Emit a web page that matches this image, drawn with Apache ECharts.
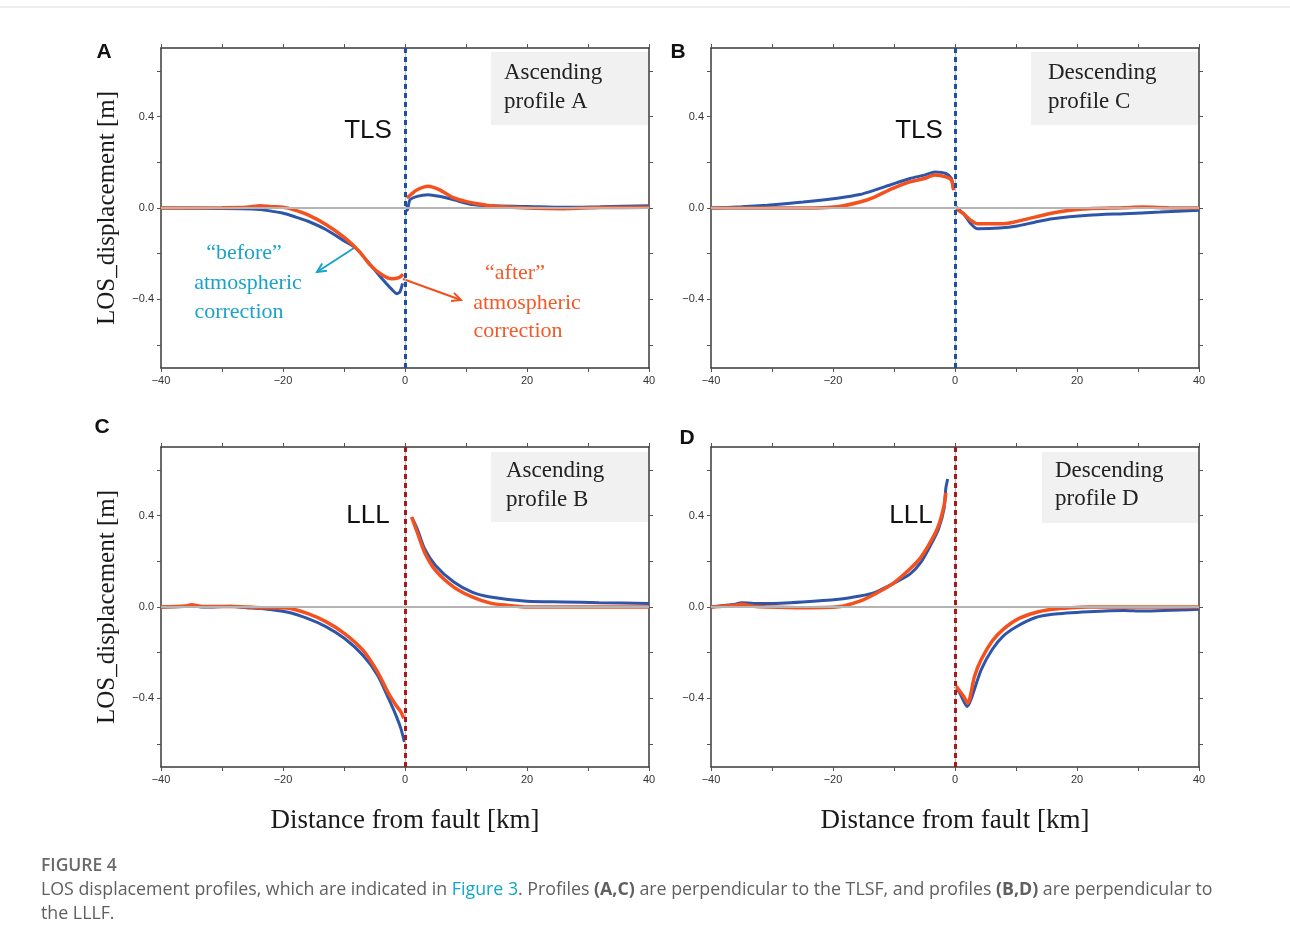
<!DOCTYPE html>
<html>
<head>
<meta charset="utf-8">
<script src="https://cdn.jsdelivr.net/npm/echarts@6/dist/echarts.min.js"></script>
<style>
html, body { margin: 0; background: #fff; }
#chart { width: 1290px; height: 947px; }
</style>
</head>
<body>
<div id="chart"></div>
<script>
// tick positions
var xLabelValues = [-40, -20, 0, 20, 40];
var xTickValues = [-40, -30, -20, -10, 0, 10, 20, 30, 40];
var yLabelValues = [-0.4, 0, 0.4];
var yTickValues = [-0.6, -0.4, -0.2, 0, 0.2, 0.4, 0.6];

// profile A (ascending, TLS)
var aBefore = [[-40,0],[-30,-0.002],[-25,-0.004],[-23.7,-0.007],[-20.1,-0.022],[-17.9,-0.04],[-15.9,-0.058],[-12.9,-0.095],[-9.9,-0.145],[-8.1,-0.175],[-5.7,-0.247],[-3.9,-0.305],[-2.2,-0.355],[-1.3,-0.375],[-0.8,-0.365],[-0.4,-0.33],[0,null],[0.2,0.015],[0.4,-0.01],[0.8,0.035],[2,0.051],[3.8,0.058],[5.6,0.051],[8,0.036],[11,0.015],[14,0.01],[20,0.007],[26,0.003],[32,0.005],[40,0.01]];
var aAfter = [[-40,0],[-30,0.001],[-26,0.003],[-23.7,0.01],[-22,0.006],[-20,0.003],[-18.3,-0.007],[-15.9,-0.03],[-12.9,-0.073],[-9.9,-0.13],[-7.5,-0.19],[-5.7,-0.25],[-3.9,-0.29],[-2.2,-0.31],[-1,-0.305],[-0.3,-0.29],[0,null],[0.3,0.044],[1,0.06],[2,0.08],[3.8,0.095],[5.6,0.08],[8,0.044],[9.8,0.03],[11.6,0.02],[14,0.01],[20,0],[26,-0.003],[32,0.002],[40,0.003]];

// profile C (descending, TLS)
var bBefore = [[-40,0],[-35,0.005],[-30.8,0.012],[-24.9,0.026],[-19,0.044],[-15.6,0.059],[-13.2,0.078],[-10.3,0.104],[-7.4,0.129],[-5,0.144],[-3.3,0.158],[-1.5,0.151],[-0.6,0.129],[-0.3,0.085],[0,null],[0.2,0.004],[1.4,-0.025],[2.6,-0.069],[3.7,-0.091],[7.3,-0.088],[10.2,-0.079],[13.1,-0.062],[16,-0.047],[21.9,-0.032],[27.7,-0.025],[33.6,-0.018],[40,-0.01]];
var bAfter = [[-40,0],[-30.8,0],[-24.9,0],[-19,0.007],[-15.6,0.026],[-13.2,0.048],[-10.3,0.085],[-7.4,0.114],[-5,0.129],[-3.3,0.144],[-1.5,0.136],[-0.6,0.122],[-0.2,0.078],[0,null],[0.2,-0.003],[1.4,-0.025],[2.6,-0.054],[3.7,-0.069],[7.3,-0.069],[9.6,-0.062],[13.1,-0.04],[16,-0.022],[18.9,-0.01],[21.9,-0.003],[27.7,0.001],[30.6,0.004],[35,0.001],[40,0]];

// profile B (ascending, LLL)
var cBefore = [[-40,0],[-36,0.002],[-35,0.005],[-33,0],[-28.5,0.003],[-26,-0.003],[-23.6,-0.007],[-19.4,-0.022],[-15.9,-0.051],[-12.9,-0.087],[-9.9,-0.138],[-6.9,-0.211],[-4.5,-0.298],[-2.7,-0.4],[-1.5,-0.473],[-0.7,-0.53],[-0.1,-0.59],[0,null],[1.1,0.393],[2,0.342],[3.2,0.255],[5,0.182],[8,0.109],[11,0.065],[14,0.044],[20,0.025],[25.9,0.022],[31.8,0.019],[40,0.015]];
var cAfter = [[-40,0],[-36,0.004],[-35,0.01],[-33,0.002],[-28.5,0.002],[-26,0],[-23.6,-0.003],[-19.4,-0.004],[-15.9,-0.029],[-12.9,-0.065],[-9.9,-0.116],[-6.9,-0.189],[-4.5,-0.284],[-2.7,-0.378],[-1.5,-0.429],[-0.7,-0.458],[-0.2,-0.487],[0,null],[1.1,0.393],[2,0.327],[3.2,0.24],[5,0.16],[8,0.087],[11,0.044],[14,0.017],[17,0.007],[20,0],[40,0]];

// profile D (descending, LLL)
var dBefore = [[-40,0],[-36,0.012],[-35,0.019],[-33,0.015],[-30.8,0.015],[-25,0.022],[-19.1,0.034],[-15.6,0.048],[-13.2,0.063],[-10.3,0.1],[-7.4,0.144],[-5.6,0.195],[-3.9,0.275],[-2.7,0.341],[-1.8,0.43],[-1.5,0.52],[-1.2,0.56],[0,null],[0.05,-0.347],[0.8,-0.377],[2,-0.435],[2.6,-0.406],[4.3,-0.274],[6.1,-0.186],[7.9,-0.127],[10.2,-0.084],[13.1,-0.047],[16,-0.032],[21.9,-0.021],[27.7,-0.015],[30.7,-0.018],[40,-0.01]];
var dAfter = [[-40,0],[-36,0.008],[-35,0.012],[-33,0.003],[-30.8,0],[-25,-0.003],[-19.1,0.001],[-15.6,0.026],[-13.2,0.056],[-10.3,0.1],[-7.4,0.166],[-5.6,0.217],[-3.9,0.29],[-2.7,0.356],[-1.8,0.444],[-1.5,0.5],[0,null],[0.2,-0.347],[1.4,-0.391],[2.1,-0.42],[3.2,-0.303],[4.3,-0.23],[6.1,-0.149],[7.9,-0.098],[10.2,-0.054],[13.1,-0.025],[16,-0.01],[19,-0.003],[21.9,0],[40,0]];

var panels = [
  { letter: 'A', fault: 'TLS', profile: ['Ascending', 'profile A'], before: aBefore, after: aAfter, dark: '#1f4fa0', light: '#a9c6ea' },
  { letter: 'B', fault: 'TLS', profile: ['Descending', 'profile C'], before: bBefore, after: bAfter, dark: '#1f4fa0', light: '#a9c6ea' },
  { letter: 'C', fault: 'LLL', profile: ['Ascending', 'profile B'], before: cBefore, after: cAfter, dark: '#a51a1a', light: '#f2a7a7' },
  { letter: 'D', fault: 'LLL', profile: ['Descending', 'profile D'], before: dBefore, after: dAfter, dark: '#a51a1a', light: '#f2a7a7' }
];

// pixel layout of each panel
var layout = [
  { left: 161, top: 48, letterX: 104, letterY: 52, box: [491, 52, 157, 73], textX: 504, textY: [73, 102], faultX: 368, faultY: 131 },
  { left: 711, top: 48, letterX: 678, letterY: 52, box: [1031, 52, 167, 73], textX: 1048, textY: [73, 102], faultX: 919, faultY: 131 },
  { left: 161, top: 447, letterX: 102, letterY: 427, box: [491, 452, 157, 70], textX: 506, textY: [471, 500], faultX: 368, faultY: 516 },
  { left: 711, top: 447, letterX: 687, letterY: 438, box: [1042, 452, 156, 71], textX: 1055, textY: [471, 499], faultX: 911, faultY: 516 }
];

var BLUE = '#2d56a8';
var ORANGE = '#f4511e';
var SERIF = '"Liberation Serif", "DejaVu Serif", serif';
var SANS = '"Liberation Sans", Arial, sans-serif';
var CAPTION = '"Open Sans", sans-serif';

var chartDom = document.getElementById('chart');
var myChart = echarts.init(chartDom);

var fmt = function (v, digits) {
  return v.toFixed(digits).replace('-', '\u2212');
};

var grids = [], xAxes = [], yAxes = [], series = [], graphics = [];

panels.forEach(function (p, i) {
  var L = layout[i];
  grids.push({ left: L.left, top: L.top, width: 488, height: 320 });

  var lineStyle = { color: '#3a3a3a', width: 1.5 };
  var tickStyle = { show: true, inside: false, length: 4, lineStyle: { color: '#555', width: 1 } };

  xAxes.push({
    type: 'value', gridIndex: i, position: 'bottom', min: -40, max: 40,
    axisLine: { show: true, onZero: false, lineStyle: lineStyle },
    axisTick: Object.assign({ customValues: xTickValues }, tickStyle),
    axisLabel: {
      customValues: xLabelValues, margin: 7, fontSize: 11, fontFamily: SANS, color: '#333',
      formatter: function (v) { return fmt(v, 0); }
    },
    splitLine: { show: false },
    name: i >= 2 ? 'Distance from fault [km]' : '',
    nameLocation: 'middle', nameGap: 40,
    nameTextStyle: { fontFamily: SERIF, fontSize: 27, color: '#1a1a1a' }
  });
  xAxes.push({
    type: 'value', gridIndex: i, position: 'top', min: -40, max: 40,
    axisLine: { show: true, onZero: false, lineStyle: lineStyle },
    axisTick: Object.assign({ customValues: xTickValues }, tickStyle),
    axisLabel: { show: false },
    splitLine: { show: false }
  });
  yAxes.push({
    type: 'value', gridIndex: i, position: 'left', min: -0.7, max: 0.7,
    axisLine: { show: true, onZero: false, lineStyle: lineStyle },
    axisTick: Object.assign({ customValues: yTickValues }, tickStyle),
    axisLabel: {
      customValues: yLabelValues, margin: 7, fontSize: 11, fontFamily: SANS, color: '#333',
      formatter: function (v) { return fmt(v, 1); }
    },
    splitLine: { show: false },
    name: i % 2 === 0 ? 'LOS_displacement [m]' : '',
    nameLocation: 'middle', nameGap: 41, nameRotate: 90,
    nameTextStyle: { fontFamily: SERIF, fontSize: 25, color: '#1a1a1a' }
  });
  yAxes.push({
    type: 'value', gridIndex: i, position: 'right', min: -0.7, max: 0.7,
    axisLine: { show: true, onZero: false, lineStyle: lineStyle },
    axisTick: Object.assign({ customValues: yTickValues }, tickStyle),
    axisLabel: { show: false },
    splitLine: { show: false }
  });

  var xi = i * 2, yi = i * 2;

  // zero reference line
  series.push({
    type: 'line', xAxisIndex: xi, yAxisIndex: yi, data: [], z: 1, silent: true,
    markLine: {
      silent: true, symbol: ['none', 'none'], label: { show: false },
      lineStyle: { color: '#b4b4b4', width: 2, type: 'solid' },
      data: [{ yAxis: 0 }]
    }
  });
  series.push({
    name: 'before', type: 'line', xAxisIndex: xi, yAxisIndex: yi, data: p.before, z: 2,
    showSymbol: false, smooth: 0.25, connectNulls: false,
    lineStyle: { color: BLUE, width: 3 }
  });
  series.push({
    name: 'after', type: 'line', xAxisIndex: xi, yAxisIndex: yi, data: p.after, z: 3,
    showSymbol: false, smooth: 0.25, connectNulls: false,
    lineStyle: { color: ORANGE, width: 3.5 }
  });
  // fault trace
  series.push({
    type: 'line', xAxisIndex: xi, yAxisIndex: yi, data: [], z: 4, silent: true,
    markLine: {
      silent: true, symbol: ['none', 'none'], label: { show: false },
      data: [
        { xAxis: 0, lineStyle: { color: p.light, width: 1, type: 'solid' } },
        { xAxis: 0, lineStyle: { color: p.dark, width: 3, type: [5, 4] } }
      ]
    }
  });

  graphics.push({
    type: 'text', x: L.letterX, y: L.letterY, z: 10,
    style: { text: p.letter, font: 'bold 21px ' + SANS, fill: '#111', textAlign: 'center', textVerticalAlign: 'middle' }
  });
  graphics.push({
    type: 'rect', z: 5,
    shape: { x: L.box[0], y: L.box[1], width: L.box[2], height: L.box[3] },
    style: { fill: '#f1f1f1' }
  });
  p.profile.forEach(function (t, k) {
    graphics.push({
      type: 'text', x: L.textX, y: L.textY[k], z: 10,
      style: { text: t, font: '23px ' + SERIF, fill: '#222', textAlign: 'left', textVerticalAlign: 'middle' }
    });
  });
  graphics.push({
    type: 'text', x: L.faultX, y: L.faultY, z: 10,
    style: { text: p.fault, font: '26px ' + SANS, fill: '#111', textAlign: 'center', textVerticalAlign: 'middle' }
  });
});

// annotations in panel A
var CYAN = '#1aa3c8';
var NOTE = '#f25a28';
function arrow(x1, y1, x2, y2, color) {
  var a = Math.atan2(y2 - y1, x2 - x1), h = 10, s = 0.45;
  return {
    type: 'group', z: 10,
    children: [
      { type: 'line', shape: { x1: x1, y1: y1, x2: x2, y2: y2 }, style: { stroke: color, lineWidth: 2 } },
      { type: 'polyline', shape: { points: [
          [x2 - h * Math.cos(a - s), y2 - h * Math.sin(a - s)], [x2, y2],
          [x2 - h * Math.cos(a + s), y2 - h * Math.sin(a + s)]
        ] }, style: { stroke: color, lineWidth: 2, fill: null } }
    ]
  };
}
var notes = [
  ['\u201cbefore\u201d', 244, 253, CYAN], ['atmospheric', 248, 283, CYAN], ['correction', 239, 312, CYAN],
  ['\u201cafter\u201d', 515, 273, NOTE], ['atmospheric', 527, 303, NOTE], ['correction', 518, 331, NOTE]
];
notes.forEach(function (n) {
  graphics.push({
    type: 'text', x: n[1], y: n[2], z: 10,
    style: { text: n[0], font: '22px ' + SERIF, fill: n[3], textAlign: 'center', textVerticalAlign: 'middle' }
  });
});
graphics.push(arrow(354, 248, 317, 272, CYAN));
graphics.push(arrow(403, 279, 461, 300, '#f0501e'));

// caption
graphics.push({ type: 'line', z: 1, shape: { x1: 0, y1: 7, x2: 1290, y2: 7 }, style: { stroke: '#dcdcdc', lineWidth: 1 } });
graphics.push({
  type: 'text', x: 41, y: 866, style: { text: 'FIGURE 4', font: '600 17.5px ' + CAPTION, fill: '#6a6a6a', textVerticalAlign: 'middle' }
});
graphics.push({
  type: 'text', x: 41, y: 890,
  style: {
    text: '{n|LOS displacement profiles, which are indicated in }{l|Figure 3}{n|. Profiles }{b|(A,C)}{n| are perpendicular to the TLSF, and profiles }{b|(B,D)}{n| are perpendicular to}',
    textVerticalAlign: 'middle',
    rich: {
      n: { fontFamily: 'Open Sans', fontSize: 17.8, fill: '#5f5f5f' },
      l: { fontFamily: 'Open Sans', fontSize: 17.8, fill: '#12a6c8' },
      b: { fontFamily: 'Open Sans', fontSize: 17.8, fontWeight: 'bold', fill: '#5f5f5f' }
    }
  }
});
graphics.push({
  type: 'text', x: 41, y: 914, style: { text: 'the LLLF.', font: '17.8px ' + CAPTION, fill: '#5f5f5f', textVerticalAlign: 'middle' }
});

var option = {
  animation: false,
  backgroundColor: '#fff',
  grid: grids,
  xAxis: xAxes,
  yAxis: yAxes,
  series: series,
  graphic: graphics
};

option && myChart.setOption(option);
</script>
</body>
</html>
